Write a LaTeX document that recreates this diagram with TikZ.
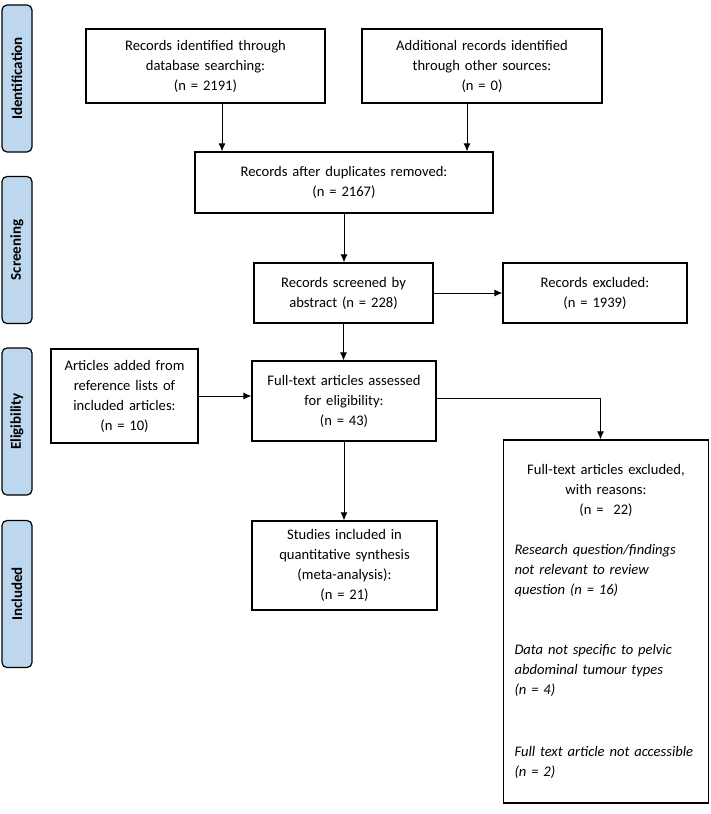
\documentclass[tikz,border=0pt]{standalone}
\usepackage{fontspec}
\setmainfont{Carlito}
\usepackage{tikz}
\usetikzlibrary{arrows.meta}

\definecolor{stageblue}{RGB}{189,215,238}

\begin{document}
\begin{tikzpicture}[
    x=1pt,y=-1pt,
    every node/.style={font=\fontsize{14.6}{20}\selectfont},
    stage node/.style={draw,line width=1.2pt,fill=stageblue,rounded corners=5pt,
      minimum width=147pt,minimum height=30pt,inner sep=0pt,rotate=90,
      font=\fontsize{15}{18}\selectfont\bfseries},
    record node/.style={draw,line width=1.2pt,inner sep=0pt,align=center},
    flow line/.style={line width=1pt,-{Latex[length=8pt,width=7pt]}},
    ]
  \useasboundingbox (0,0) rectangle (710,814);

  % stages
  \node[stage node] (ident) at (17,78.5) {Identification};
  \node[stage node] (screen) at (17,250) {Screening};
  \node[stage node] (elig) at (17,421.5) {Eligibility};
  \node[stage node] (incl) at (17,594) {Included};

  % records
  \node[record node,minimum width=239pt,minimum height=74pt,text width=225pt] (dbsearch) at (205.5,66)
    {Records identified through\\database searching:\\(n = 2191)};
  \node[record node,minimum width=240pt,minimum height=74pt,text width=225pt] (other) at (482,66)
    {Additional records identified\\through other sources:\\(n = 0)};
  \node[record node,minimum width=298pt,minimum height=61pt,text width=280pt] (dupl) at (344,182.5)
    {Records after duplicates removed:\\(n = 2167)};
  \node[record node,minimum width=179pt,minimum height=60pt,text width=165pt] (screened) at (343.5,293)
    {Records screened by\\abstract (n = 228)};
  \node[record node,minimum width=184pt,minimum height=60pt,text width=170pt] (excl1) at (595,293)
    {Records excluded:\\(n = 1939)};
  \node[record node,minimum width=184pt,minimum height=80pt,text width=170pt] (fulltext) at (344,401)
    {Full-text articles assessed\\for eligibility:\\(n = 43)};
  \node[record node,minimum width=147pt,minimum height=94pt,text width=135pt] (added) at (124.5,396)
    {Articles added from\\reference lists of\\included articles:\\(n = 10)};
  \node[record node,minimum width=185pt,minimum height=89pt,text width=172pt] (studies) at (344.5,565.5)
    {Studies included in\\quantitative synthesis\\(meta-analysis):\\(n = 21)};
  \node[draw,line width=1.2pt,inner sep=0pt,minimum width=205pt,minimum height=363pt,text width=183pt] (excl2) at (606,621.5)
    {\setlength{\parindent}{0pt}%
     {\centering Full-text articles excluded,\\with reasons:\\(n =\ \ 22)\par}
     \vspace{20pt}
     {\raggedright\itshape Research question/findings\\not relevant to review\\question (n = 16)\par
     \vspace{40pt}
     Data not specific to pelvic\\abdominal tumour types\\(n = 4)\par
     \vspace{42pt}
     Full text article not accessible\\(n = 2)\par}};

  \draw[flow line] ([xshift=16.5pt]dbsearch.south) -- ([xshift=16.5pt]dbsearch.south |- dupl.north);
  \draw[flow line] ([xshift=-15pt]other.south) -- ([xshift=-15pt]other.south |- dupl.north);
  \draw[flow line] (dupl.south) -- (dupl.south |- screened.north);
  \draw[flow line] (screened) -- (excl1);
  \draw[flow line] (screened.south) -- (screened.south |- fulltext.north);
  \draw[flow line] (added.east) -- (added.east -| fulltext.west);
  \draw[flow line] ([yshift=3pt]fulltext.east) -| ([xshift=-5.5pt]excl2.north);
  \draw[flow line] (fulltext.south) -- (fulltext.south |- studies.north);
\end{tikzpicture}
\end{document}
